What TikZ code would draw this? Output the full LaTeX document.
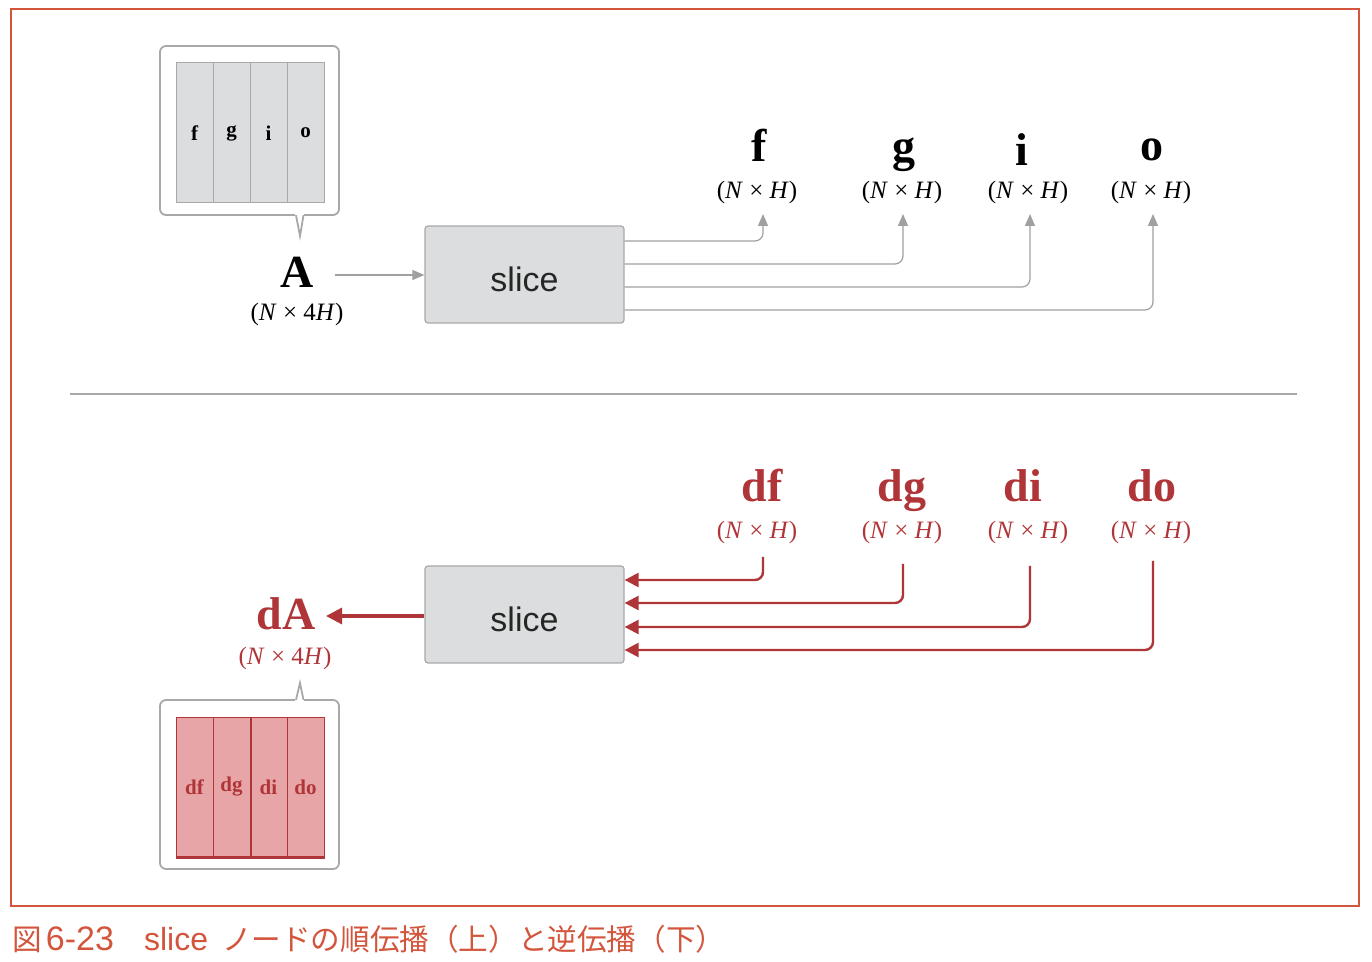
\documentclass[tikz,border=0pt]{standalone}
\usepackage{fontspec}
\setmainfont{Liberation Serif}
\newfontfamily\sansf{Liberation Sans}
\newfontfamily\cjk{Noto Sans CJK JP}
\usetikzlibrary{arrows.meta}
\definecolor{frame}{HTML}{D2553C}
\definecolor{capc}{HTML}{D2553C}
\definecolor{redc}{HTML}{B03538}
\definecolor{redfill}{HTML}{E8A5A8}
\definecolor{grayfill}{HTML}{DCDDDE}
\definecolor{grayline}{HTML}{A8A8A8}
\definecolor{arrowgray}{HTML}{A0A0A0}
\begin{document}
\begin{tikzpicture}[x=0.5pt,y=-0.5pt,
  slicebox/.style={draw=grayline,fill=grayfill,line width=0.6pt,rounded corners=1.5pt,minimum width=99.5pt,minimum height=48.5pt,inner sep=0pt,text height=16.8pt,text depth=0pt,font=\sansf\fontsize{17}{17}\selectfont,text=black!85},
  biglab/.style={anchor=base,inner sep=0pt,font=\fontsize{23}{23}\selectfont\bfseries},
  dimlab/.style={anchor=base,inner sep=0pt,font=\fontsize{12.5}{12.5}\selectfont},
  callout/.style={draw=grayline,line width=0.9pt,fill=white},
  gcol/.style={draw=grayline,fill=grayfill,line width=0.5pt,minimum width=18.5pt,minimum height=70pt,inner sep=0pt,font=\fontsize{10.5}{10.5}\selectfont\bfseries},
  rcol/.style={draw=redc,fill=redfill,line width=0.5pt,minimum width=18.5pt,minimum height=70pt,inner sep=0pt,text=redc,font=\fontsize{10.5}{10.5}\selectfont\bfseries},
  garr/.style={draw=arrowgray,line width=0.6pt,rounded corners=4pt,-{Triangle[length=6pt,width=5pt]}},
  rarr/.style={draw=redc,line width=1.2pt,rounded corners=4pt,-{Triangle[length=7pt,width=7pt]}},
]
\useasboundingbox (0,0) rectangle (1372,962);
% frame
\draw[frame,line width=0.6pt] (11,9) rectangle (1359,906);
% separator
\draw[grayline,line width=0.6pt] (70,394) -- (1297,394);

% ---------- top ----------
\draw[callout,rounded corners=3pt] (160,46) rectangle (339,215);
\fill[white] (294.5,212) -- (300,236) -- (304.5,212) -- cycle;
\draw[grayline,line width=0.9pt] (296,215.2) -- (300,236) -- (303.5,215.2);
\node[gcol] (c1) at (194.5,133) {f};
\node[gcol] (c2) at (231.5,133) {g};
\node[gcol] (c3) at (268.5,133) {i};
\node[gcol] (c4) at (305.5,133) {o};
\draw[grayline,line width=0.9pt] (c2.north east) -- (c2.south east);

\node[biglab] (A) at (297,288) {A};
\node[dimlab] (Ad) at (297,321) {(\textit{N} × 4\textit{H})};
\node[slicebox] (s1) at (524.5,274.5) {slice};
\coordinate (Aout) at (335,275);
\draw[draw=arrowgray,line width=0.6pt,-{Triangle[length=6pt,width=5pt]}] (Aout) -- (s1.west |- Aout);

\node[biglab] (f) at (759,162) {f};
\node[biglab] (g) at (904,162) {g};
\node[biglab] (i) at (1022,166) {i};
\node[biglab] (o) at (1152,161) {o};
\node[dimlab] (fd) at (757,199) {(\textit{N} × \textit{H})};
\node[dimlab] (gd) at (902,199) {(\textit{N} × \textit{H})};
\node[dimlab] (id) at (1028,199) {(\textit{N} × \textit{H})};
\node[dimlab] (od) at (1151,199) {(\textit{N} × \textit{H})};
\coordinate (fa) at (763,214);
\coordinate (ga) at (903,214);
\coordinate (ia) at (1030,214);
\coordinate (oa) at (1153,214);
\draw[garr] (s1.east |- 0,241) -| (fa);
\draw[garr] (s1.east |- 0,264) -| (ga);
\draw[garr] (s1.east |- 0,287) -| (ia);
\draw[garr] (s1.east |- 0,310) -| (oa);

% ---------- bottom ----------
\node[biglab,text=redc] (df) at (762,502) {df};
\node[biglab,text=redc] (dg) at (902,502) {dg};
\node[biglab,text=redc] (di) at (1023,502) {di};
\node[biglab,text=redc] (do) at (1152,502) {do};
\node[dimlab,text=redc] (dfd) at (757,539) {(\textit{N} × \textit{H})};
\node[dimlab,text=redc] (dgd) at (902,539) {(\textit{N} × \textit{H})};
\node[dimlab,text=redc] (did) at (1028,539) {(\textit{N} × \textit{H})};
\node[dimlab,text=redc] (dod) at (1151,539) {(\textit{N} × \textit{H})};

\node[slicebox] (s2) at (524.5,614.5) {slice};
\coordinate (dfs) at (763,557);
\coordinate (dgs) at (903,564);
\coordinate (dis) at (1030,566);
\coordinate (dos) at (1153,561);
\draw[rarr] (dfs) |- (s2.east |- 0,580);
\draw[rarr] (dgs) |- (s2.east |- 0,603);
\draw[rarr] (dis) |- (s2.east |- 0,627);
\draw[rarr] (dos) |- (s2.east |- 0,650);

\node[biglab,text=redc] (dA) at (286,630) {dA};
\node[dimlab,text=redc] (dAd) at (285,665) {(\textit{N} × 4\textit{H})};
\coordinate (dAin) at (326,616);
\draw[draw=redc,line width=1.6pt,-{Triangle[length=8pt,width=8pt]}] (s2.west |- dAin) -- (dAin);

\draw[callout,rounded corners=3pt] (160,700) rectangle (339,869);
\fill[white] (294.5,703) -- (300,683) -- (304.5,703) -- cycle;
\draw[grayline,line width=0.9pt] (296,699.8) -- (300,683) -- (303.5,699.8);
\node[rcol] (d1) at (194.5,787) {df};
\node[rcol] (d2) at (231.5,787) {dg};
\node[rcol] (d3) at (268.5,787) {di};
\node[rcol] (d4) at (305.5,787) {do};
\draw[redc,line width=1pt] (d2.north east) -- (d2.south east);
\draw[redc,line width=1.2pt] (d1.south west) -- (d4.south east);

% caption
\node[anchor=base west,inner sep=0pt,text=capc,font=\fontsize{14.8}{14.8}\selectfont] (cap) at (12,950)
  {{\cjk 図}\hspace{2pt}{\sansf\fontsize{17}{17}\selectfont 6-23}\hspace{15pt}{\sansf\fontsize{16}{16}\selectfont slice}\hspace{7pt}{\cjk ノードの順伝播（上）と逆伝播（下）}};
\end{tikzpicture}
\end{document}
